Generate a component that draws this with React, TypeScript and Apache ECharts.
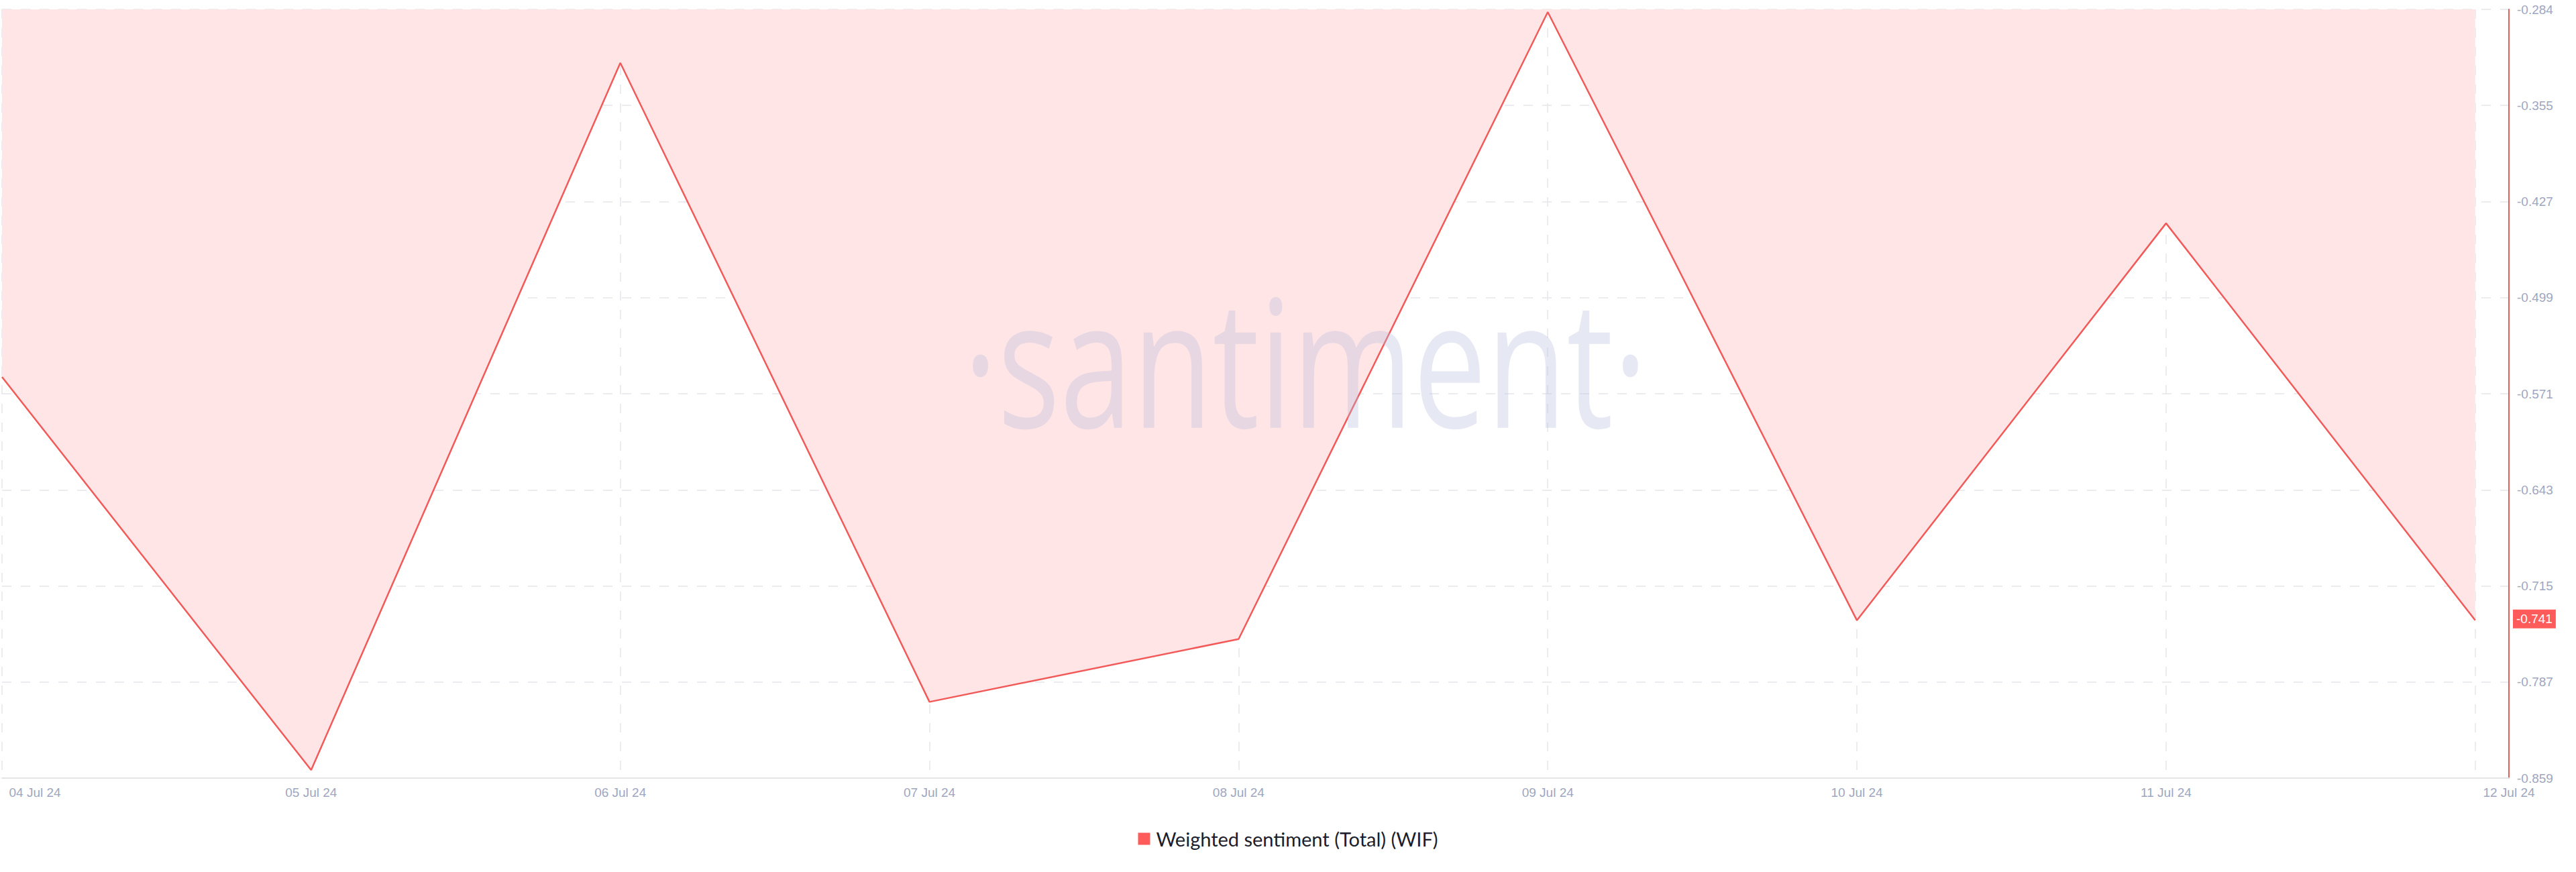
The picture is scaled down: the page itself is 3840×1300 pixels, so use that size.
import React, { useEffect, useRef } from "react";
import * as echarts from "echarts";

const dates = ["04 Jul 24", "05 Jul 24", "06 Jul 24", "07 Jul 24", "08 Jul 24", "09 Jul 24", "10 Jul 24", "11 Jul 24", "12 Jul 24"];
const sentiment = [-0.559, -0.853, -0.324, -0.802, -0.755, -0.286, -0.741, -0.444, -0.741];
const yTickLabels = ["-0.859", "-0.787", "-0.715", "-0.643", "-0.571", "-0.499", "-0.427", "-0.355", "-0.284"];
const yMin = -0.859;
const yMax = -0.284;
const lastValueLabel = "-0.741";
const seriesName = "Weighted sentiment (Total) (WIF)";

export default function App() {
  const ref = useRef<HTMLDivElement>(null);
  useEffect(() => {
    if (!ref.current) return;
    const chart = echarts.init(ref.current, undefined, { renderer: "svg" });
    const yInterval = (yMax - yMin) / (yTickLabels.length - 1);
    const xMax = 8.109;
    const gridColor = "#e6e6eb";
    chart.setOption({
      animation: false,
      backgroundColor: "#ffffff",
      grid: { left: 0, right: 100, top: 14, bottom: 140, containLabel: false },
      graphic: [
        {
          type: "text",
          left: 1436,
          top: 402,
          z: 10,
          silent: true,
          style: {
            text: "·santiment·",
            font: '400 265px "Open Sans"',
            fill: "rgba(180,188,220,0.33)",
          },
          scaleX: 0.735,
          scaleY: 1,
        },
      ],
      legend: {
        bottom: 30,
        left: "center",
        icon: "rect",
        itemWidth: 18,
        itemHeight: 18,
        itemGap: 10,
        textStyle: { color: "#1b1d2c", fontSize: 29, fontFamily: "Lato", padding: [0, 0, 0, 4] },
        data: [{ name: seriesName, itemStyle: { color: "#ff5b5b" } }],
      },
      xAxis: {
        type: "value",
        min: 0,
        max: xMax,
        interval: 1,
        axisLine: { show: true, onZero: false, lineStyle: { color: "#e3e3e8", width: 2 } },
        axisTick: { show: false },
        splitLine: { show: true, lineStyle: { color: gridColor, type: [14, 14], width: 1.5 } },
        axisLabel: {
          color: "#9ea6bf",
          fontSize: 19,
          fontFamily: "Liberation Sans",
          margin: 12,
          alignMinLabel: "left",
          alignMaxLabel: "center",
          formatter: (v: number) => {
            const i = Math.round(v);
            if (Math.abs(v - i) < 1e-6 && i < dates.length - 1) return (i === 0 ? "  " : "") + dates[i];
            if (v > dates.length - 1 + 0.05) return dates[dates.length - 1];
            return "";
          },
        },
      },
      yAxis: {
        type: "value",
        position: "right",
        min: yMin,
        max: yMax,
        interval: yInterval,
        axisLine: { show: true, onZero: false, lineStyle: { color: "#e0605a", width: 2 } },
        axisTick: { show: false },
        splitLine: { show: true, lineStyle: { color: gridColor, type: [14, 14], width: 1.5 } },
        axisLabel: {
          color: "#9ea6bf",
          fontSize: 19,
          fontFamily: "Liberation Sans",
          margin: 12,
          formatter: (v: number) => {
            const i = Math.round((v - yMin) / yInterval);
            return yTickLabels[i] ?? "";
          },
        },
      },
      series: [
        {
          name: seriesName,
          type: "line",
          data: sentiment.map((v, i) => [i, v]),
          symbol: "none",
          lineStyle: { color: "#f25a5a", width: 2.5 },
          itemStyle: { color: "#ff5b5b" },
          areaStyle: { origin: "end", color: "#ffe5e6", opacity: 1 },
          z: 2,
          markLine: {
            silent: true,
            symbol: "none",
            lineStyle: { color: "rgba(0,0,0,0)", width: 0 },
            data: [{ yAxis: sentiment[sentiment.length - 1] }],
            label: {
              show: true,
              position: "end",
              distance: 6,
              formatter: lastValueLabel,
              backgroundColor: "#ff5b5b",
              color: "#ffffff",
              fontSize: 19,
              fontFamily: "Liberation Sans",
              padding: [5, 5, 4, 5],
            },
          },
        },
      ],
    });
    return () => chart.dispose();
  }, []);
  return <div ref={ref} style={{ position: "fixed", left: 0, top: 0, width: 3840, height: 1300 }} />;
}
